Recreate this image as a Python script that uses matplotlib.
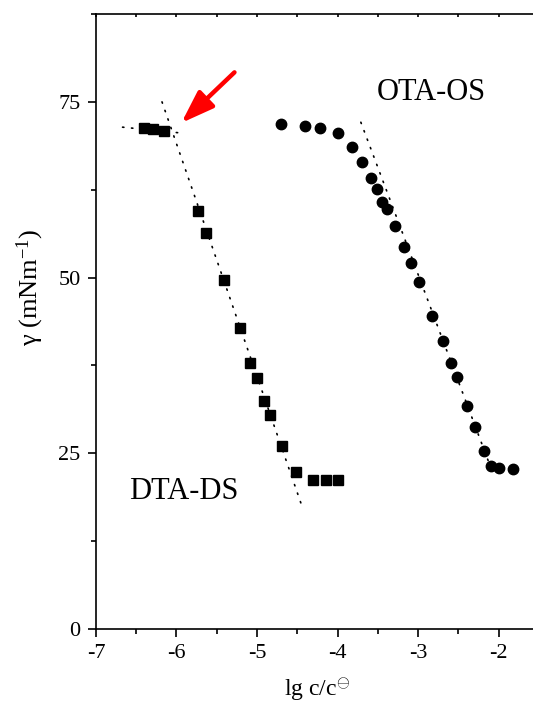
import matplotlib
matplotlib.use("Agg")
import matplotlib.pyplot as plt
from matplotlib.ticker import MultipleLocator

plt.rcParams['font.family'] = ['Liberation Serif', 'DejaVu Serif']
plt.rcParams['mathtext.fontset'] = 'custom'
plt.rcParams['mathtext.rm'] = 'Liberation Serif'
plt.rcParams['mathtext.it'] = 'Liberation Serif:italic'
plt.rcParams['axes.unicode_minus'] = False

# Surface tension vs. log concentration
dta_x = [-6.40, -6.29, -6.16, -5.73, -5.63, -5.41, -5.21, -5.09, -5.00,
         -4.91, -4.84, -4.69, -4.52, -4.30, -4.14, -3.99]
dta_y = [71.3, 71.1, 70.9, 59.5, 56.3, 49.7, 42.8, 37.9, 35.7,
         32.5, 30.5, 26.0, 22.4, 21.2, 21.2, 21.2]

ota_x = [-4.70, -4.40, -4.22, -4.00, -3.82, -3.69, -3.59, -3.51, -3.45,
         -3.39, -3.29, -3.18, -3.09, -2.99, -2.82, -2.69, -2.59, -2.52,
         -2.39, -2.29, -2.18, -2.09, -1.99, -1.82]
ota_y = [71.8, 71.5, 71.3, 70.6, 68.6, 66.4, 64.2, 62.6, 60.8,
         59.7, 57.3, 54.3, 52.1, 49.4, 44.5, 41.0, 37.9, 35.8,
         31.8, 28.8, 25.3, 23.2, 22.9, 22.7]

# Guide lines (endpoints)
dta_flat_x = [-6.67, -5.97]
dta_flat_y = [71.4, 70.6]
dta_steep_x = [-6.18, -4.43]
dta_steep_y = [75.0, 17.1]
ota_steep_x = [-3.71, -2.12]
ota_steep_y = [72.1, 23.7]

xticks = [-7, -6, -5, -4, -3, -2]
yticks = [0, 25, 50, 75]

fig = plt.figure(figsize=(5.33, 7.04), dpi=100)
ax = fig.add_axes([0.1801, 0.1065, 0.8307, 0.8736])

dot = dict(color='black', lw=1.2, linestyle=(0, (0.8, 4.6)), dash_capstyle='round')
ax.plot(dta_flat_x, dta_flat_y, **dot)
ax.plot(dta_steep_x, dta_steep_y, **dot)
ax.plot(ota_steep_x, ota_steep_y, **dot)

ax.plot(dta_x, dta_y, 's', color='black', markersize=6.8, zorder=3)
ax.plot(ota_x, ota_y, 'o', color='black', markersize=7.5, zorder=3)

ax.annotate('', xy=(-5.94, 72.0), xytext=(-5.28, 79.2),
            arrowprops=dict(arrowstyle='-|>,head_length=1.0,head_width=0.35',
                            color='red', lw=3.2, mutation_scale=20,
                            shrinkA=0, shrinkB=0))

ax.text(-2.84, 76.3, 'OTA-OS', fontsize=22, ha='center', va='center')
ax.text(-5.91, 19.5, 'DTA-DS', fontsize=22, ha='center', va='center')

ax.set_xlim(-7, -1.5)
ax.set_ylim(0, 87.5)
ax.set_xticks(xticks)
ax.set_yticks(yticks)
ax.xaxis.set_minor_locator(MultipleLocator(0.5))
ax.yaxis.set_minor_locator(MultipleLocator(12.5))

for s in ax.spines.values():
    s.set_linewidth(1.2)
ax.spines['right'].set_visible(False)

ax.tick_params(axis='both', which='major', direction='out', length=6, width=1.2,
               labelsize=16, pad=5)
ax.tick_params(axis='both', which='minor', direction='out', length=3.5, width=1.2)
ax.xaxis.set_tick_params(which='both', top=True)
for t in ax.xaxis.get_major_ticks() + ax.xaxis.get_minor_ticks():
    t.tick2line.set_marker(3)
    t.tick2line.set_markersize(2.5)

ax.set_xlabel(r'lg c/c$^{\ominus}$', fontsize=17)
ax.xaxis.set_label_coords(0.5, -0.077, transform=ax.transAxes)
ax.xaxis.label.set_va('top')

ax.text(-0.149, 0.556, r'γ (mNm$^{\mathrm{-1}}$)', transform=ax.transAxes,
        rotation=90, fontsize=19, ha='center', va='center')

fig.savefig('out.png', dpi=100)
